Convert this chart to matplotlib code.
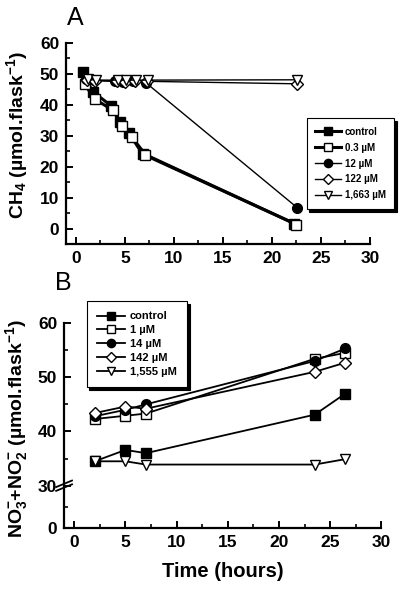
import matplotlib
matplotlib.use('Agg')
import matplotlib.pyplot as plt
from matplotlib.ticker import MultipleLocator

plt.rcParams['font.family'] = ['Liberation Sans', 'DejaVu Sans']
plt.rcParams['mathtext.fontset'] = 'custom'
plt.rcParams['mathtext.bf'] = 'Liberation Sans:bold'
plt.rcParams['mathtext.rm'] = 'Liberation Sans:bold'
plt.rcParams['mathtext.default'] = 'bf'

# Panel A: CH4 (umol/flask)
a_labels = ['control', '0.3 µM', '12 µM', '122 µM', '1,663 µM']
a_t_control = [0.7, 1.7, 3.6, 4.5, 5.4, 6.8, 22.3]
a_y_control = [50.5, 44.3, 39.7, 34.6, 30.9, 24.1, 1.6]
a_t_03 = [0.9, 1.9, 3.8, 4.7, 5.7, 7.1, 22.5]
a_y_03 = [46.7, 41.9, 38.2, 33.2, 29.6, 23.9, 1.3]
a_t_12 = [1.0, 1.8, 4.0, 4.8, 5.8, 7.2, 22.6]
a_y_12 = [48.3, 48.0, 47.6, 47.5, 47.8, 47.0, 6.7]
a_t_122 = [1.1, 2.0, 4.2, 5.0, 6.0, 7.3, 22.6]
a_y_122 = [48.0, 47.8, 47.6, 47.5, 47.8, 47.6, 46.8]
a_t_1663 = [1.2, 2.1, 4.3, 5.1, 6.1, 7.4, 22.6]
a_y_1663 = [48.2, 48.0, 48.0, 48.0, 48.0, 48.0, 48.1]

# Panel B: NO3- + NO2- (umol/flask)
b_labels = ['control', '1 µM', '14 µM', '142 µM', '1,555 µM']
b_t = [2.0, 5.0, 7.0, 23.5, 26.5]
b_control = [34.5, 36.6, 36.0, 43.1, 47.0]
b_1 = [42.3, 42.9, 43.3, 53.4, 54.5]
b_14 = [42.8, 44.0, 45.0, 53.0, 55.3]
b_142 = [43.4, 44.6, 44.2, 51.0, 52.7]
b_1555 = [34.5, 34.5, 33.9, 33.9, 34.9]

markers = ['s', 's', 'o', 'D', 'v']
faces = ['black', 'white', 'black', 'white', 'white']
msizes = [6.5, 6.5, 7, 6, 7.5]

fig = plt.figure(figsize=(4.03, 5.93), dpi=100)
axA = fig.add_axes([0.164, 0.5885, 0.754, 0.339])
axB = fig.add_axes([0.159, 0.1096, 0.787, 0.3457])

a_series = [(a_t_control, a_y_control), (a_t_03, a_y_03), (a_t_12, a_y_12),
            (a_t_122, a_y_122), (a_t_1663, a_y_1663)]
a_lw = [2.2, 2.2, 1.0, 1.0, 1.0]
for i, (t, y) in enumerate(a_series):
    axA.plot(t, y, color='black', lw=a_lw[i], marker=markers[i],
             mfc=faces[i], mec='black', mew=1.0, ms=msizes[i], label=a_labels[i],
             zorder=3 + i)

b_series = [b_control, b_1, b_14, b_142, b_1555]
for i, y in enumerate(b_series):
    axB.plot(b_t, y, color='black', lw=1.3, marker=markers[i],
             mfc=faces[i], mec='black', mew=1.0, ms=msizes[i], label=b_labels[i],
             zorder=3 + i)

for ax in (axA, axB):
    for s in ('top', 'right'):
        ax.spines[s].set_visible(False)
    for s in ('left', 'bottom'):
        ax.spines[s].set_linewidth(1.6)
    ax.set_xlim(-1, 30)
    ax.xaxis.set_minor_locator(MultipleLocator(2.5))
    ax.tick_params(which='major', direction='in', length=5, width=1.4,
                   labelsize=12.5, pad=5)
    ax.tick_params(which='minor', direction='in', length=3, width=1.2)
    ax.set_xticks(range(0, 31, 5))
    ax.set_xticklabels([str(v) for v in range(0, 31, 5)], fontweight='bold')

axA.set_ylim(-5, 60)
axA.set_yticks(range(0, 61, 10))
axA.yaxis.set_minor_locator(MultipleLocator(5))
axA.set_yticklabels([str(v) for v in range(0, 61, 10)], fontweight='bold')
axA.set_ylabel(r'CH$_4$ (µmol.flask$^{-1}$)', fontsize=14, fontweight='bold')
axA.yaxis.set_label_coords(-0.12, 0.54)

# broken y axis in B: 30..60 plus a "0" at the bottom
b_bottom = 22.2
axB.set_ylim(b_bottom, 60)
axB.set_yticks([b_bottom, 30, 40, 50, 60])
axB.set_yticklabels(['0', '30', '40', '50', '60'], fontweight='bold')
axB.set_yticks([26.0, 35, 45, 55], minor=True)
axB.set_ylabel(r'NO$_3^{-}$+NO$_2^{-}$ (µmol.flask$^{-1}$)', fontsize=14,
               fontweight='bold')
axB.yaxis.set_label_coords(-0.108, 0.485)
axB.set_xlabel('Time (hours)', fontsize=14.5, fontweight='bold', labelpad=9)

# break marks on the left spine
ytrans = axB.get_yaxis_transform()
for dy in (-0.35, 0.35):
    axB.plot([-0.025, 0.025], [30 + dy - 0.6, 30 + dy + 0.6], transform=ytrans,
             color='black', lw=1.3, clip_on=False, zorder=10)

legA = axA.legend(loc='upper left', bbox_to_anchor=(0.749, 0.809),
                  bbox_transform=fig.transFigure, fancybox=False,
                  shadow={'color': 'black', 'alpha': 1}, edgecolor='black',
                  framealpha=1, prop={'weight': 'bold', 'size': 7},
                  handlelength=2.6, labelspacing=0.6, borderpad=0.9,
                  handletextpad=0.4, markerscale=0.85)
legA.get_frame().set_linewidth(0.8)
legB = axB.legend(loc='upper left', bbox_to_anchor=(0.201, 0.501),
                  bbox_transform=fig.transFigure, fancybox=False,
                  shadow={'color': 'black', 'alpha': 1}, edgecolor='black',
                  framealpha=1, prop={'weight': 'bold', 'size': 8},
                  handlelength=2.6, labelspacing=0.35, borderpad=0.9,
                  handletextpad=0.4, markerscale=0.85)
legB.get_frame().set_linewidth(0.8)

fig.text(75 / 403, 1 - 18 / 593, 'A', fontsize=18, ha='center', va='center')
fig.text(63 / 403, 1 - 283 / 593, 'B', fontsize=18, ha='center', va='center')

fig.savefig('out.png', dpi=100)
